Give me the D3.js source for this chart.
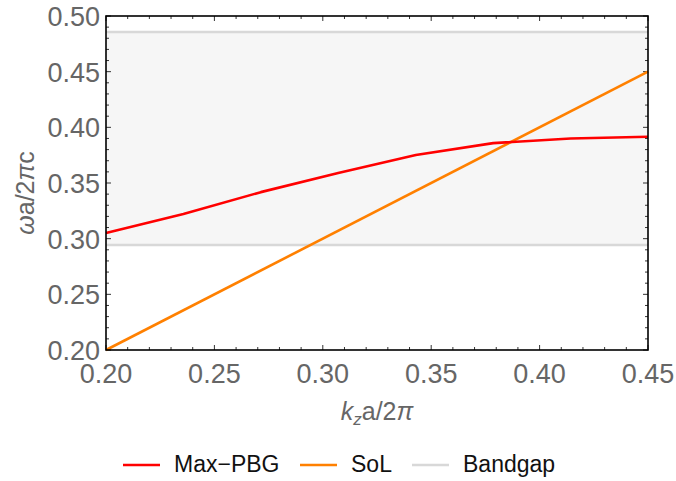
<!DOCTYPE html>
<html>
<head>
<meta charset="utf-8">
<script src="https://cdn.jsdelivr.net/npm/d3@7"></script>
<style>
  body { margin: 0; background: #fff; }
  text { font-family: "Liberation Sans", Arial, sans-serif; }
</style>
</head>
<body>
<script>
// sampled k_z values and the top of the band gap (Max-PBG)
var kz = [0.2, 0.2357, 0.2714, 0.3071, 0.3429, 0.3786, 0.4143, 0.45];
var maxPBG = [0.3051, 0.3222, 0.3418, 0.3590, 0.3752, 0.3858, 0.3900, 0.3916];
// speed-of-light line: omega = kz
var solK = [0.2, 0.45];
var solW = [0.2, 0.45];
// bandgap edges
var gapLow = 0.2943, gapHigh = 0.4856;
var xTicks = [0.20, 0.25, 0.30, 0.35, 0.40, 0.45];
var yTicks = [0.20, 0.25, 0.30, 0.35, 0.40, 0.45, 0.50];

var W = 676, H = 481;
var m = {left: 106, right: 648, top: 16, bottom: 350};

var svg = d3.select("body").append("svg")
    .attr("width", W).attr("height", H);

var x = d3.scaleLinear().domain([0.2, 0.45]).range([m.left, m.right]);
var y = d3.scaleLinear().domain([0.2, 0.5]).range([m.bottom, m.top]);

// band gap region
svg.append("rect")
    .attr("x", x(0.2)).attr("width", x(0.45) - x(0.2))
    .attr("y", y(gapHigh)).attr("height", y(gapLow) - y(gapHigh))
    .attr("fill", "#f6f6f6");
[gapLow, gapHigh].forEach(function(g) {
    svg.append("line")
        .attr("x1", x(0.2)).attr("x2", x(0.45))
        .attr("y1", y(g)).attr("y2", y(g))
        .attr("stroke", "#d8d8d8").attr("stroke-width", 2.5);
});

// minor + major ticks on all four sides
var minorX = d3.range(0.20, 0.4501, 0.01);
var minorY = d3.range(0.20, 0.5001, 0.01);
function isMajor(v) { return Math.abs(v * 20 - Math.round(v * 20)) < 1e-6; }

var tg = svg.append("g").attr("stroke", "#333").attr("stroke-width", 1);
minorX.forEach(function(v) {
    var len = isMajor(v) ? 5 : 3;
    tg.append("line").attr("x1", x(v)).attr("x2", x(v))
        .attr("y1", m.bottom).attr("y2", m.bottom - len);
    tg.append("line").attr("x1", x(v)).attr("x2", x(v))
        .attr("y1", m.top).attr("y2", m.top + len);
});
minorY.forEach(function(v) {
    var len = isMajor(v) ? 5 : 3;
    tg.append("line").attr("y1", y(v)).attr("y2", y(v))
        .attr("x1", m.left).attr("x2", m.left + len);
    tg.append("line").attr("y1", y(v)).attr("y2", y(v))
        .attr("x1", m.right).attr("x2", m.right - len);
});

// curves
var line = d3.line().x(function(d) { return x(d[0]); }).y(function(d) { return y(d[1]); });
svg.append("path")
    .datum(d3.zip(solK, solW))
    .attr("d", line).attr("fill", "none")
    .attr("stroke", "#ff8000").attr("stroke-width", 2.6);
svg.append("path")
    .datum(d3.zip(kz, maxPBG))
    .attr("d", line).attr("fill", "none")
    .attr("stroke", "#ff0000").attr("stroke-width", 2.6)
    .attr("stroke-linejoin", "round");

// frame
svg.append("rect")
    .attr("x", m.left).attr("y", m.top)
    .attr("width", m.right - m.left).attr("height", m.bottom - m.top)
    .attr("fill", "none").attr("stroke", "#000").attr("stroke-width", 1.6);

// tick labels
svg.selectAll(".xl").data(xTicks).enter().append("text")
    .attr("x", function(d) { return x(d); }).attr("y", 383)
    .attr("text-anchor", "middle").attr("font-size", 27).attr("fill", "#666")
    .text(function(d) { return d.toFixed(2); });
svg.selectAll(".yl").data(yTicks).enter().append("text")
    .attr("x", 100).attr("y", function(d) { return y(d) + 10; })
    .attr("text-anchor", "end").attr("font-size", 27).attr("fill", "#666")
    .text(function(d) { return d.toFixed(2); });

// axis labels
var xl = svg.append("text").attr("x", 377).attr("y", 420)
    .attr("text-anchor", "middle").attr("font-size", 25).attr("fill", "#666");
xl.append("tspan").attr("font-style", "italic").text("k");
xl.append("tspan").attr("font-style", "italic").attr("font-size", 17).attr("dy", 5).text("z");
xl.append("tspan").attr("dy", -5).text("a/2");
xl.append("tspan").attr("font-style", "italic").text("π");

var yl = svg.append("text")
    .attr("transform", "translate(34,193) rotate(-90)")
    .attr("text-anchor", "middle").attr("font-size", 25).attr("fill", "#666");
yl.append("tspan").attr("font-style", "italic").text("ω");
yl.append("tspan").text("a/2");
yl.append("tspan").attr("font-style", "italic").text("π");
yl.append("tspan").text("c");

// legend
var legend = [
    {name: "Max\u2212PBG", color: "#ff0000", x: 123},
    {name: "SoL", color: "#ff8000", x: 300},
    {name: "Bandgap", color: "#d8d8d8", x: 412}
];
legend.forEach(function(l) {
    svg.append("line").attr("x1", l.x).attr("x2", l.x + 37)
        .attr("y1", 465).attr("y2", 465)
        .attr("stroke", l.color).attr("stroke-width", 2.6);
    svg.append("text").attr("x", l.x + 51).attr("y", 472)
        .attr("font-size", 23).attr("fill", "#111").text(l.name);
});
</script>
</body>
</html>
